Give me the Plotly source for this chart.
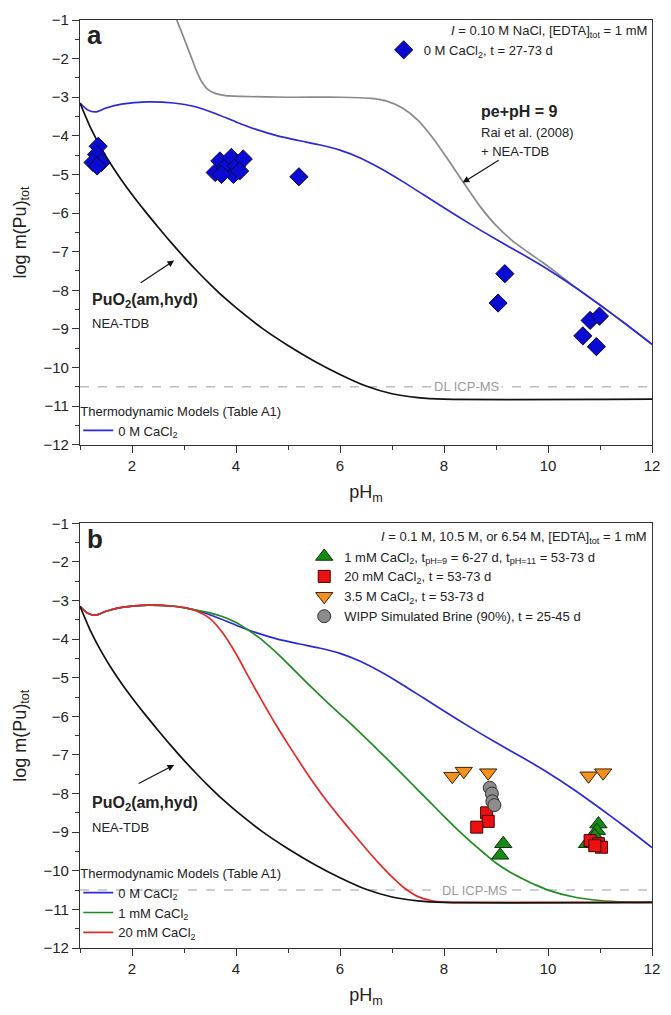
import plotly.graph_objects as go

# ---------------- data ----------------
# Thermodynamic model curves (pH_m, log m(Pu)tot)
black_ph = [1.0, 1.2, 1.4, 1.6, 1.8, 2.0, 2.25, 2.5, 2.75, 3.0, 3.25, 3.5, 3.75, 4.0, 4.5, 5.0, 5.5, 6.0, 6.5, 7.0, 7.5, 8.0, 12.0]
black_v = [-3.15, -3.78, -4.3, -4.75, -5.15, -5.52, -5.95, -6.36, -6.76, -7.14, -7.5, -7.84, -8.16, -8.45, -8.98, -9.43, -9.83, -10.18, -10.48, -10.68, -10.78, -10.82, -10.82]

blue_ph = [1.0, 1.15, 1.3, 1.5, 1.8, 2.3, 2.8, 3.2, 3.6, 4.0, 4.4, 4.8, 5.2, 5.6, 6.0, 6.4, 6.8, 7.2, 7.6, 8.0, 8.5, 9.0, 9.5, 10.0, 10.5, 11.0, 11.5, 12.0]
blue_v = [-3.15, -3.33, -3.38, -3.28, -3.18, -3.12, -3.15, -3.24, -3.42, -3.64, -3.84, -4.0, -4.12, -4.23, -4.37, -4.58, -4.86, -5.18, -5.52, -5.86, -6.28, -6.68, -7.06, -7.46, -7.9, -8.38, -8.88, -9.4]

gray_ph = [2.86, 2.95, 3.05, 3.15, 3.25, 3.35, 3.45, 3.6, 3.8, 4.1, 5.0, 6.0, 6.6, 6.9, 7.2, 7.5, 7.8, 8.1, 8.4, 8.7, 9.0, 9.3, 9.6, 9.9, 10.2, 10.5, 11.0, 11.5, 12.0]
gray_v = [-1.0, -1.3, -1.65, -2.0, -2.35, -2.62, -2.79, -2.9, -2.96, -2.98, -3.0, -3.0, -3.03, -3.1, -3.28, -3.6, -4.08, -4.66, -5.26, -5.84, -6.32, -6.7, -7.0, -7.28, -7.58, -7.9, -8.38, -8.88, -9.4]

green_ph = [1.0, 1.15, 1.3, 1.5, 1.8, 2.3, 2.8, 3.2, 3.5, 3.75, 4.0, 4.25, 4.5, 4.75, 5.0, 5.25, 5.5, 5.75, 6.0, 6.25, 6.5, 6.75, 7.0, 7.25, 7.5, 7.75, 8.0, 8.25, 8.5, 8.75, 9.0, 9.25, 9.5, 9.75, 10.0, 10.5, 11.0, 11.5, 12.0]
green_v = [-3.15, -3.33, -3.38, -3.28, -3.18, -3.12, -3.15, -3.24, -3.32, -3.42, -3.57, -3.78, -4.02, -4.32, -4.64, -4.98, -5.31, -5.63, -5.94, -6.25, -6.57, -6.9, -7.23, -7.57, -7.91, -8.25, -8.59, -8.92, -9.23, -9.52, -9.8, -10.02, -10.2, -10.36, -10.5, -10.68, -10.77, -10.81, -10.82]

red_ph = [1.0, 1.15, 1.3, 1.5, 1.8, 2.3, 2.8, 3.0, 3.25, 3.5, 3.75, 4.0, 4.25, 4.5, 4.75, 5.0, 5.25, 5.5, 5.75, 6.0, 6.25, 6.5, 6.75, 7.0, 7.25, 7.5, 7.75, 8.0, 8.5, 12.0]
red_v = [-3.15, -3.33, -3.38, -3.28, -3.18, -3.12, -3.15, -3.18, -3.28, -3.47, -3.85, -4.38, -5.0, -5.6, -6.18, -6.72, -7.24, -7.74, -8.2, -8.62, -9.03, -9.43, -9.81, -10.16, -10.46, -10.67, -10.77, -10.81, -10.82, -10.82]

# Panel a experimental data: 0 M CaCl2
dia_ph = [1.35, 1.32, 1.25, 1.41, 1.33, 3.6, 3.69, 3.79, 3.91, 3.95, 4.01, 4.14, 4.07, 3.72, 5.21, 9.04, 9.17, 10.67, 10.81, 10.93, 10.99]
dia_v = [-4.27, -4.48, -4.69, -4.69, -4.78, -4.95, -4.65, -4.82, -4.56, -5.0, -4.78, -4.6, -4.91, -5.0, -5.06, -8.33, -7.57, -9.18, -8.78, -9.46, -8.67]

# Panel b experimental data
tri_ph = [9.14, 9.08, 10.97, 10.94, 10.75, 10.9]
tri_v = [-9.3, -9.6, -8.79, -8.96, -9.3, -9.1]
sq_ph = [8.82, 8.85, 8.63, 10.81, 10.97, 11.03, 10.9]
sq_v = [-8.5, -8.72, -8.87, -9.22, -9.3, -9.39, -9.35]
inv_ph = [8.16, 8.38, 8.85, 10.78, 11.06]
inv_v = [-7.55, -7.42, -7.46, -7.54, -7.46]
circ_ph = [8.88, 8.92, 8.93, 8.97]
circ_v = [-7.85, -8.0, -8.2, -8.3]

DL_ICPMS = -10.5
x_range = [1, 12]
y_range = [-12, -1]

# ---------------- styling ----------------
FONT = "Liberation Sans, Arial, sans-serif"
C_BLUE = "#2a2ad8"
C_GRAY = "#8a8a8a"
C_GREEN = "#1e8c1e"
C_RED = "#e62828"
C_BLACK = "#111111"

fig = go.Figure()

def line(xs, ys, color, name, xa, ya, legend=None, show=False):
    fig.add_trace(go.Scatter(x=xs, y=ys, mode="lines", name=name,
                             line=dict(color=color, width=1.7, shape="spline", smoothing=0.7),
                             xaxis=xa, yaxis=ya, legend=legend, showlegend=show,
                             hoverinfo="skip"))

# Panel a
line(gray_ph, gray_v, C_GRAY, "pe+pH = 9", "x", "y")
line(blue_ph, blue_v, C_BLUE, "0 M CaCl<sub>2</sub>", "x", "y", "legend2", True)
line(black_ph, black_v, C_BLACK, "PuO2", "x", "y")
fig.add_trace(go.Scatter(x=dia_ph, y=dia_v, mode="markers", name="0 M CaCl<sub>2</sub>, t = 27-73 d",
                         marker=dict(symbol="diamond", size=14, color="#0a0ad2",
                                     line=dict(color="#0a0a40", width=1)),
                         xaxis="x", yaxis="y", legend="legend", showlegend=True))

# Panel b
line(blue_ph, blue_v, C_BLUE, "0 M CaCl<sub>2</sub>", "x2", "y2", "legend4", True)
line(green_ph, green_v, C_GREEN, "1 mM CaCl<sub>2</sub>", "x2", "y2", "legend4", True)
line(red_ph, red_v, C_RED, "20 mM CaCl<sub>2</sub>", "x2", "y2", "legend4", True)
line(black_ph, black_v, C_BLACK, "PuO2", "x2", "y2")

fig.add_trace(go.Scatter(x=tri_ph, y=tri_v, mode="markers",
                         name="1 mM CaCl<sub>2</sub>, t<sub>pH=9</sub> = 6-27 d, t<sub>pH=11</sub> = 53-73 d",
                         marker=dict(symbol="triangle-up", size=15, color="#168c16",
                                     line=dict(color="#0a300a", width=1)),
                         xaxis="x2", yaxis="y2", legend="legend3", showlegend=True))
fig.add_trace(go.Scatter(x=sq_ph, y=sq_v, mode="markers",
                         name="20 mM CaCl<sub>2</sub>, t = 53-73 d",
                         marker=dict(symbol="square", size=12, color="#ec1010",
                                     line=dict(color="#400000", width=1)),
                         xaxis="x2", yaxis="y2", legend="legend3", showlegend=True))
fig.add_trace(go.Scatter(x=inv_ph, y=inv_v, mode="markers",
                         name="3.5 M CaCl<sub>2</sub>, t = 53-73 d",
                         marker=dict(symbol="triangle-down", size=15, color="#f29020",
                                     line=dict(color="#402000", width=1)),
                         xaxis="x2", yaxis="y2", legend="legend3", showlegend=True))
fig.add_trace(go.Scatter(x=circ_ph, y=circ_v, mode="markers",
                         name="WIPP Simulated Brine (90%), t = 25-45 d",
                         marker=dict(symbol="circle", size=13, color="#8c8c8c",
                                     line=dict(color="#303030", width=1)),
                         xaxis="x2", yaxis="y2", legend="legend3", showlegend=True))

axis_common = dict(range=x_range, showline=True, linecolor="#333", linewidth=1.2, mirror=True,
                   ticks="outside", ticklen=7, tickwidth=1.2, tickcolor="#333",
                   showgrid=False, zeroline=False,
                   tickfont=dict(family=FONT, size=15, color="#222"))
xa = dict(axis_common, dtick=2, tick0=0,
          minor=dict(dtick=1, ticks="outside", ticklen=4, tickcolor="#333", showgrid=False),
          title=dict(text="pH<sub>m</sub>", font=dict(family=FONT, size=18, color="#222"), standoff=12))
ya = dict(axis_common, range=y_range, dtick=1, tick0=0,
          minor=dict(dtick=0.5, ticks="outside", ticklen=4, tickcolor="#333", showgrid=False),
          title=dict(text="log m(Pu)<sub>tot</sub>", font=dict(family=FONT, size=18, color="#222"), standoff=12))

top_dom = [0.5423, 1.0]
bot_dom = [0.0, 0.4577]

fig.update_layout(
    width=671, height=1015,
    margin=dict(l=80, r=11, t=15, b=67),
    paper_bgcolor="white", plot_bgcolor="white",
    font=dict(family=FONT, size=13, color="#222"),
    xaxis=dict(xa, anchor="y", domain=[0, 1]),
    yaxis=dict(ya, anchor="x", domain=top_dom),
    xaxis2=dict(xa, anchor="y2", domain=[0, 1]),
    yaxis2=dict(ya, anchor="x2", domain=bot_dom),
    legend=dict(x=0.531, y=0.984, xanchor="left", yanchor="top", bgcolor="rgba(0,0,0,0)",
                font=dict(family=FONT, size=13, color="#222"), tracegroupgap=0),
    legend2=dict(x=-0.003, y=0.592, xanchor="left", yanchor="top", bgcolor="rgba(0,0,0,0)",
                 title=dict(text="Thermodynamic Models (Table A1)", font=dict(family=FONT, size=13)),
                 font=dict(family=FONT, size=13, color="#222")),
    legend3=dict(x=0.392, y=0.438, xanchor="left", yanchor="top", bgcolor="rgba(0,0,0,0)",
                 font=dict(family=FONT, size=13, color="#222"), tracegroupgap=0),
    legend4=dict(x=-0.003, y=0.094, xanchor="left", yanchor="top", bgcolor="rgba(0,0,0,0)",
                 title=dict(text="Thermodynamic Models (Table A1)", font=dict(family=FONT, size=13)),
                 font=dict(family=FONT, size=13, color="#222")),
)

shapes = []
for xr, yr in (("x", "y"), ("x2", "y2")):
    shapes.append(dict(type="line", xref=xr, yref=yr, x0=x_range[0], x1=x_range[1],
                       y0=DL_ICPMS, y1=DL_ICPMS, layer="below",
                       line=dict(color="#bdbdbd", width=1.5, dash="dash")))
fig.update_layout(shapes=shapes)

ann = []
def txt(x, y, t, xr, yr, size=13, xanchor="left", color="#222", bg=None):
    d = dict(x=x, y=y, xref=xr, yref=yr, text=t, showarrow=False, xanchor=xanchor,
             yanchor="middle", font=dict(family=FONT, size=size, color=color))
    if bg:
        d["bgcolor"] = bg
    ann.append(d)

def arrow(hx, hy, tx, ty, xr, yr):
    ann.append(dict(x=hx, y=hy, ax=tx, ay=ty, xref=xr, yref=yr, axref=xr, ayref=yr,
                    text="", showarrow=True, arrowhead=2, arrowsize=1.1, arrowwidth=1.2,
                    arrowcolor="#111", standoff=0))

# panel a
txt(1.1, -1.38, "<b>a</b>", "x", "y", size=26)
txt(11.95, -1.31, "<i>I</i> = 0.10 M NaCl, [EDTA]<sub>tot</sub> = 1 mM", "x", "y", xanchor="right")
txt(8.68, -3.37, "<b>pe+pH = 9</b>", "x", "y", size=16)
txt(8.68, -3.91, "Rai et al. (2008)", "x", "y")
txt(8.68, -4.4, "+ NEA-TDB", "x", "y")
arrow(8.36, -5.21, 9.08, -4.61, "x", "y")
txt(1.19, -8.26, "<b>PuO<sub>2</sub>(am,hyd)</b>", "x", "y", size=16)
txt(1.19, -8.86, "NEA-TDB", "x", "y")
arrow(2.81, -7.23, 2.14, -7.83, "x", "y")
txt(8.45, DL_ICPMS, "DL ICP-MS", "x", "y", color="#9a9a9a", xanchor="center", bg="white")

# panel b
txt(1.1, -1.4, "<b>b</b>", "x2", "y2", size=26)
txt(11.95, -1.36, "<i>I</i> = 0.1 M, 10.5 M, or 6.54 M, [EDTA]<sub>tot</sub> = 1 mM", "x2", "y2", xanchor="right")
txt(1.19, -8.27, "<b>PuO<sub>2</sub>(am,hyd)</b>", "x2", "y2", size=16)
txt(1.19, -8.88, "NEA-TDB", "x2", "y2")
arrow(2.81, -7.26, 2.1, -7.76, "x2", "y2")
txt(8.6, DL_ICPMS, "DL ICP-MS", "x2", "y2", color="#9a9a9a", xanchor="center", bg="white")

fig.update_layout(annotations=ann)

fig.write_html("out.html")
